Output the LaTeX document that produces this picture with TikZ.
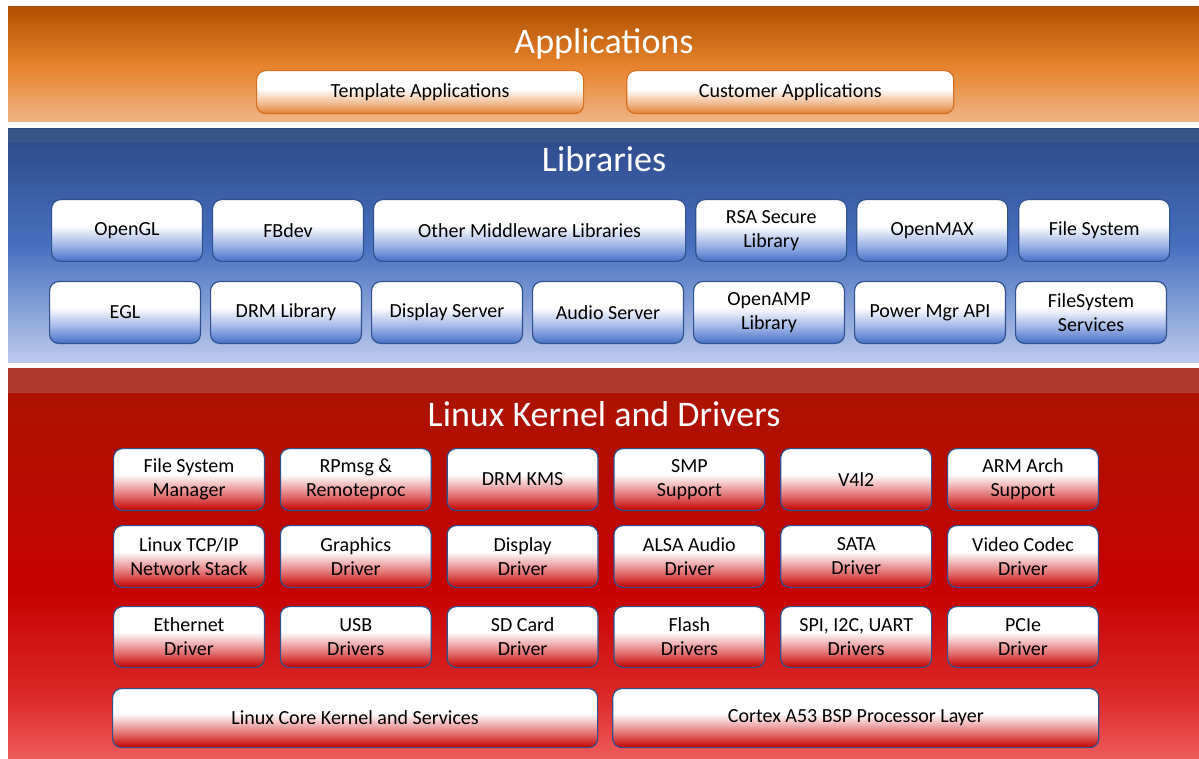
\documentclass[tikz,border=0pt]{standalone}
\usepackage{fontspec}
\setmainfont{Carlito}
\usetikzlibrary{positioning}

\definecolor{appedge}{RGB}{212,112,32}
\definecolor{boxedge}{RGB}{47,82,143}
\definecolor{libstrip}{RGB}{58,85,135}
\definecolor{kernstrip}{RGB}{175,58,48}

% band shadings (bottom -> top, the path covers 25bp..75bp)
\pgfdeclareverticalshading{appband}{100bp}{%
  color(0bp)=(rgb,255:red,240;green,180;blue,132);
  color(25bp)=(rgb,255:red,240;green,180;blue,132);
  color(50bp)=(rgb,255:red,230;green,130;blue,44);
  color(75bp)=(rgb,255:red,176;green,80;blue,0);
  color(100bp)=(rgb,255:red,176;green,80;blue,0)}
\pgfdeclareverticalshading{libband}{100bp}{%
  color(0bp)=(rgb,255:red,188;green,202;blue,236);
  color(25bp)=(rgb,255:red,188;green,202;blue,236);
  color(50bp)=(rgb,255:red,72;green,112;blue,192);
  color(75bp)=(rgb,255:red,44;green,72;blue,135);
  color(100bp)=(rgb,255:red,44;green,72;blue,135)}
\pgfdeclareverticalshading{kernband}{100bp}{%
  color(0bp)=(rgb,255:red,240;green,92;blue,92);
  color(25bp)=(rgb,255:red,240;green,92;blue,92);
  color(33bp)=(rgb,255:red,220;green,40;blue,40);
  color(47bp)=(rgb,255:red,198;green,0;blue,0);
  color(75bp)=(rgb,255:red,168;green,22;blue,0);
  color(100bp)=(rgb,255:red,168;green,22;blue,0)}

% box shadings
\pgfdeclareverticalshading{appshade}{100bp}{%
  color(0bp)=(rgb,255:red,230;green,126;blue,44);
  color(25bp)=(rgb,255:red,230;green,126;blue,44);
  color(37bp)=(rgb,255:red,241;green,186;blue,142);
  color(54bp)=(white); color(100bp)=(white)}
\pgfdeclareverticalshading{libshade}{100bp}{%
  color(0bp)=(rgb,255:red,70;green,110;blue,200);
  color(25bp)=(rgb,255:red,70;green,110;blue,200);
  color(37bp)=(rgb,255:red,150;green,175;blue,228);
  color(54bp)=(white); color(100bp)=(white)}
\pgfdeclareverticalshading{kernshade}{100bp}{%
  color(0bp)=(rgb,255:red,196;green,0;blue,0);
  color(25bp)=(rgb,255:red,196;green,0;blue,0);
  color(37bp)=(rgb,255:red,226;green,112;blue,112);
  color(54bp)=(white); color(100bp)=(white)}

\begin{document}
\begin{tikzpicture}[
    x=1pt, y=-1pt,
    node distance=9pt,
    layer/.style={text=white, font=\fontsize{36}{40}\selectfont},
    box/.style={rectangle, rounded corners=9pt, line width=1.2pt, align=center,
                inner sep=0pt, minimum width=150.8pt, minimum height=61.8pt,
                font=\fontsize{20}{24}\selectfont},
    appbox/.style={box, draw=appedge, shade, shading=appshade,
                   minimum width=327pt, minimum height=43pt},
    libbox/.style={box, draw=boxedge, shade, shading=libshade},
    kernbox/.style={box, draw=boxedge, shade, shading=kernshade}
]

\useasboundingbox[fill=white] (0,0) rectangle (1199,759);

% Bands
\shade[shading=appband] (8,7) rectangle (1199,122);
\shade[shading=libband] (8,129) rectangle (1199,362);
\fill[libstrip] (8,129) rectangle (1199,143);
\shade[shading=kernband] (8,368) rectangle (1199,759);
\fill[kernstrip] (8,368) rectangle (1199,393);

% Applications
\node[layer] (apps) at (604,44) {Applications};
\node[appbox, anchor=north west] (tmpl) at (256,70) {Template Applications};
\node[appbox, right=42pt of tmpl] (cust) {Customer Applications};

% Libraries
\node[layer] (libs) at (604,159) {Libraries};
\node[libbox, anchor=north west] (opengl) at (51,199) {OpenGL};
\node[libbox, right=of opengl] (fbdev) {FBdev};
\node[libbox, right=of fbdev, minimum width=312pt] (midw) {Other Middleware Libraries};
\node[libbox, right=of midw] (rsa) {RSA Secure\\Library};
\node[libbox, right=of rsa] (omax) {OpenMAX};
\node[libbox, right=10pt of omax] (fsys) {File System};

\node[libbox, anchor=north west] (egl) at (49,281) {EGL};
\node[libbox, right=of egl] (drmlib) {DRM Library};
\node[libbox, right=of drmlib] (dserv) {Display Server};
\node[libbox, right=of dserv] (aserv) {Audio Server};
\node[libbox, right=of aserv] (oamp) {OpenAMP\\Library};
\node[libbox, right=of oamp] (pmgr) {Power Mgr API};
\node[libbox, right=of pmgr] (fsserv) {FileSystem\\Services};

% Linux Kernel and Drivers
\node[layer] (kern) at (604,414) {Linux Kernel and Drivers};
\begin{scope}[node distance=14.8pt]
\node[kernbox, anchor=north west] (fsm) at (113,448) {File System\\Manager};
\node[kernbox, right=of fsm] (rpmsg) {RPmsg \&\\Remoteproc};
\node[kernbox, right=of rpmsg] (drmkms) {DRM KMS};
\node[kernbox, right=of drmkms] (smp) {SMP\\Support};
\node[kernbox, right=of smp] (v4l) {V4l2};
\node[kernbox, right=of v4l] (arm) {ARM Arch\\Support};

\node[kernbox, anchor=north west] (tcpip) at (113,525) {Linux TCP/IP\\Network Stack};
\node[kernbox, right=of tcpip] (gfx) {Graphics\\Driver};
\node[kernbox, right=of gfx] (disp) {Display\\Driver};
\node[kernbox, right=of disp] (alsa) {ALSA Audio\\Driver};
\node[kernbox, right=of alsa] (sata) {SATA\\Driver};
\node[kernbox, right=of sata] (vcodec) {Video Codec\\Driver};

\node[kernbox, anchor=north west, minimum height=60.8pt] (eth) at (113,606) {Ethernet\\Driver};
\node[kernbox, right=of eth, minimum height=60.8pt] (usb) {USB\\Drivers};
\node[kernbox, right=of usb, minimum height=60.8pt] (sdcard) {SD Card\\Driver};
\node[kernbox, right=of sdcard, minimum height=60.8pt] (flash) {Flash\\Drivers};
\node[kernbox, right=of flash, minimum height=60.8pt] (serial) {SPI, I2C, UART\\Drivers};
\node[kernbox, right=of serial, minimum height=60.8pt] (pcie) {PCIe\\Driver};

\node[kernbox, anchor=north west, minimum width=485pt, minimum height=59pt] (core) at (112,688) {Linux Core Kernel and Services};
\node[kernbox, right=14pt of core, minimum width=486pt, minimum height=59pt] (bsp) {Cortex A53 BSP Processor Layer};
\end{scope}

\end{tikzpicture}
\end{document}
